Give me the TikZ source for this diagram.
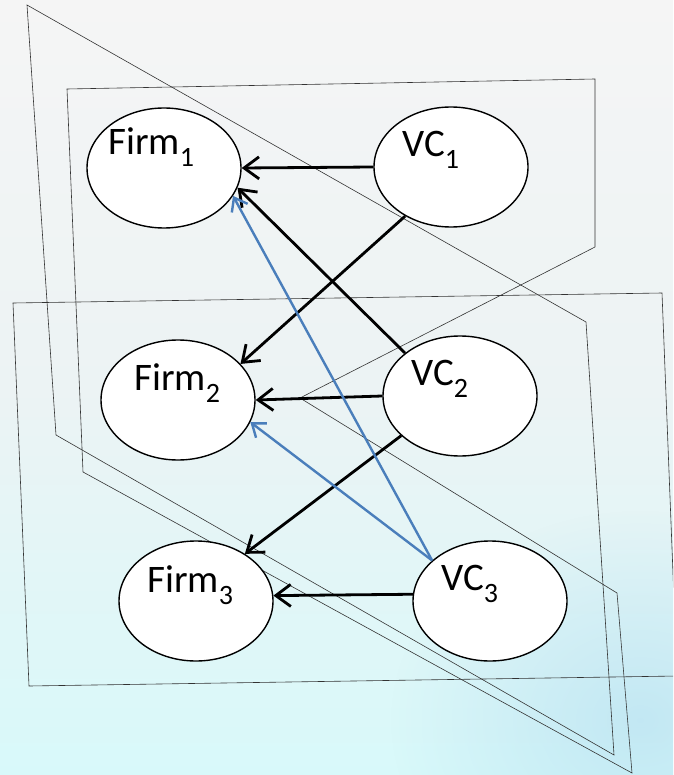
\documentclass[tikz,border=0pt]{standalone}
\usepackage{fontspec}
\setmainfont{Carlito}
\usetikzlibrary{shapes.geometric,arrows.meta,fadings}

\definecolor{bgtop}{RGB}{245,245,245}
\definecolor{bgmid}{RGB}{236,243,244}
\definecolor{bgbot}{RGB}{216,249,250}
\definecolor{frost}{RGB}{165,212,236}
\definecolor{linkblue}{RGB}{74,126,187}

\tikzfading[name=frostfade, inner color=transparent!0, outer color=transparent!100]

% name with a lowered index
\newcommand{\lbl}[2]{#1\raisebox{-12pt}{\fontsize{28}{28}\selectfont #2}}

\tikzset{
	plane/.style = {draw=black!80, line width=.6pt},
	agent/.style = {ellipse, draw, line width=1.4pt, fill=white, minimum width=154pt, minimum height=120pt, inner sep=0pt},
	lab/.style = {anchor=base west, inner sep=0pt, font=\fontsize{39}{44}\selectfont},
	link/.style = {line width=2.8pt, -{Straight Barb[length=15pt,width=22pt]}},
	bluelink/.style = {draw=linkblue, line width=2.4pt, -{Straight Barb[length=12pt,width=18pt]}}
}

\newcommand{\planes}{
	%three overlapping planes behind the network
	\draw[plane] (27,5) -- (56,435) -- (614,755) -- (586,322) -- cycle;
	\draw[plane] (67,89) -- (595,79) -- (595,247) -- (300,398) -- (617,593) -- (632,773) -- (83,472) -- cycle;
	\draw[plane] (13,303) -- (662,293) -- (677,676) -- (29,686) -- cycle;
}

\begin{document}
\begin{tikzpicture}[x=1pt, y=-1pt]
	\useasboundingbox (0,0) rectangle (673,775);
	\shade[top color=bgtop, bottom color=bgbot, middle color=bgmid] (0,0) rectangle (673,775);
	\begin{scope}
		\clip (0,0) rectangle (673,775);
		\fill[frost, opacity=.45, path fading=frostfade] (640,720) ellipse (250 and 210);
		\planes
	\end{scope}

	%firms on the left, venture capitalists on the right
	\node[agent] (firm1) at (164,168) {};
	\node[agent] (firm2) at (178,400) {};
	\node[agent] (firm3) at (196,601) {};
	\node[agent] (vc1) at (451,167) {};
	\node[agent] (vc2) at (460,396) {};
	\node[agent] (vc3) at (490,601) {};

	\node[lab] (firm1lab) at (108,155) {\lbl{Firm}{1}};
	\node[lab] (firm2lab) at (134,390) {\lbl{Firm}{2}};
	\node[lab] (firm3lab) at (147,592) {\lbl{Firm}{3}};
	\node[lab] (vc1lab) at (402,157) {\lbl{VC}{1}};
	\node[lab] (vc2lab) at (411,385) {\lbl{VC}{2}};
	\node[lab] (vc3lab) at (441,590) {\lbl{VC}{3}};

	\draw[link] (vc1.180) -- (firm1.0);
	\draw[link] (vc2.142) -- (firm1.-15);
	\draw[link] (vc1.227) -- (firm2.30);
	\draw[link] (vc2.180) -- (firm2.0);
	\draw[link] (vc2.214) -- (firm3.44);
	\draw[link] (vc3.175) -- (firm3.4);
	\draw[bluelink] (vc3.145) -- (firm1.-22);
	\draw[bluelink] (vc3.145) -- (firm2.-17);
\end{tikzpicture}
\end{document}
